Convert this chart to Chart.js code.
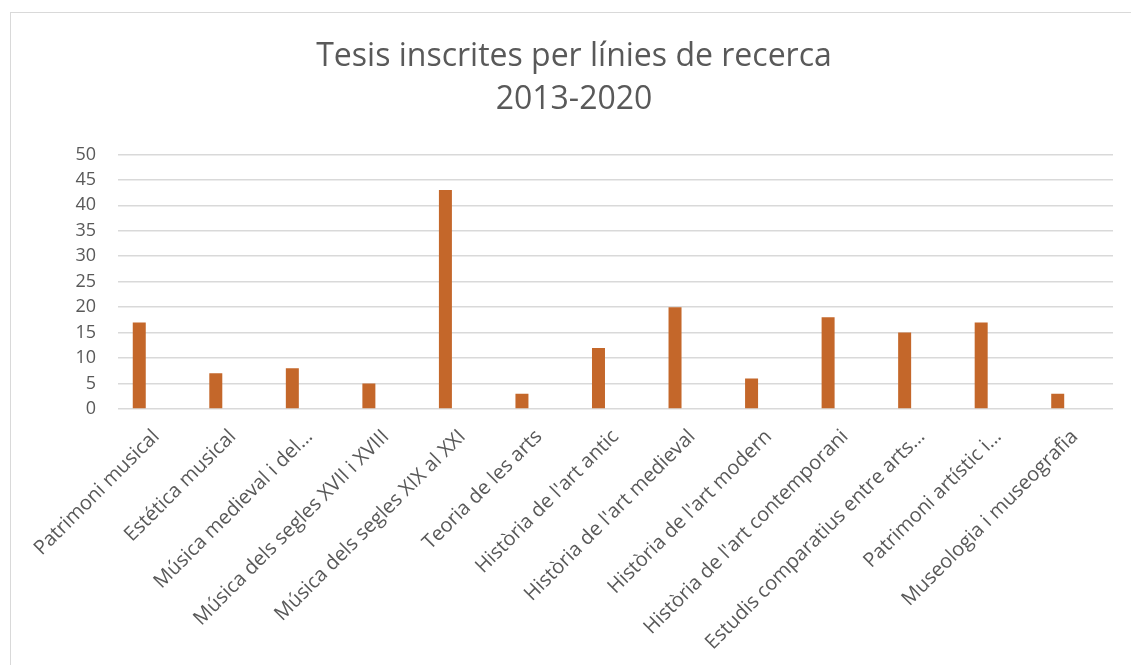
<!DOCTYPE html>
<html>
<head>
    <meta charset="UTF-8">
    <title>Tesis inscrites per línies de recerca</title>
    <script src="https://cdn.jsdelivr.net/npm/chart.js"></script>
    <style>
        body {
            margin: 0;
            background-color: #fff;
            overflow: hidden;
        }
        .chart-box {
            position: absolute;
            left: 10px;
            top: 12px;
            width: 1150px;
            height: 680px;
            border: 1px solid #d9d9d9;
        }
    </style>
</head>
<body>
    <div class="chart-box">
        <canvas id="chart" width="1150" height="680"></canvas>
    </div>
    <script>
    const titleLines = ['Tesis inscrites per línies de recerca', '2013-2020'];
    const categories = [
        'Patrimoni musical',
        'Estética musical',
        'Música medieval i del…',
        'Música dels segles XVII i XVIII',
        'Música dels segles XIX al XXI',
        'Teoria de les arts',
        "Història de l'art antic",
        "Història de l'art medieval",
        "Història de l'art modern",
        "Història de l'art contemporani",
        'Estudis comparatius entre arts…',
        'Patrimoni artístic i…',
        'Museologia i museografia'
    ];
    const tesis = [17, 7, 8, 5, 43, 3, 12, 20, 6, 18, 15, 17, 3];
    const yTicks = { min: 0, max: 50, step: 5 };

    const textColor = '#595959';
    const fontFamily = "'Open Sans', sans-serif";

    new Chart(document.getElementById('chart'), {
        type: 'bar',
        data: {
            labels: categories,
            datasets: [
                {
                    label: 'Tesis',
                    data: tesis,
                    backgroundColor: '#C4672A',
                    categoryPercentage: 0.889,
                    barPercentage: 0.382
                },
                {
                    // second (empty) series of the original chart, keeps the bars off-centre
                    label: '',
                    data: [],
                    categoryPercentage: 0.889,
                    barPercentage: 0.382
                }
            ]
        },
        options: {
            responsive: false,
            animation: false,
            devicePixelRatio: 1,
            layout: {
                padding: { left: 24, right: 48, top: 0, bottom: 0 }
            },
            plugins: {
                legend: { display: false },
                tooltip: { enabled: false },
                title: {
                    display: true,
                    text: titleLines,
                    color: textColor,
                    font: { family: fontFamily, size: 32, weight: 'normal', lineHeight: 1.35 },
                    padding: { top: 22, bottom: 33 }
                }
            },
            scales: {
                x: {
                    grid: { display: false },
                    border: { display: false },
                    ticks: {
                        color: textColor,
                        font: { family: fontFamily, size: 20 },
                        minRotation: 45,
                        maxRotation: 45,
                        autoSkip: false,
                        padding: 8
                    },
                    afterFit: function (scale) {
                        scale.height = 284;
                    }
                },
                y: {
                    min: yTicks.min,
                    max: yTicks.max,
                    grid: {
                        color: '#d9d9d9',
                        lineWidth: 1.5,
                        drawTicks: false
                    },
                    border: { display: false },
                    ticks: {
                        stepSize: yTicks.step,
                        color: textColor,
                        font: { family: fontFamily, size: 18 },
                        padding: 22
                    },
                    afterFit: function (scale) {
                        scale.width = 83;
                    }
                }
            }
        }
    });
    </script>
</body>
</html>
